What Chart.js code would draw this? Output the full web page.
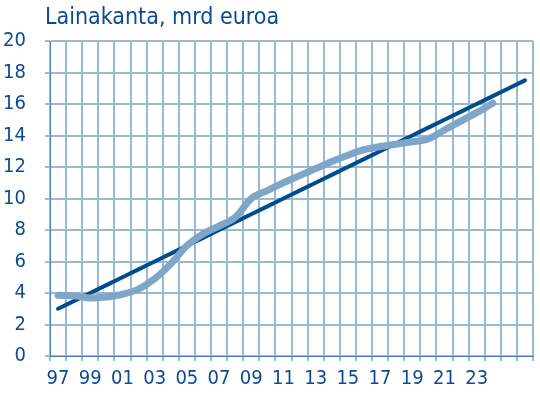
<!DOCTYPE html>
<html>
<head>
<meta charset="utf-8">
<script src="https://cdn.jsdelivr.net/npm/chart.js@4"></script>
<style>
  html, body { margin: 0; padding: 0; background: #fff; }
  #wrap { width: 540px; height: 395px; }
</style>
</head>
<body>
<div id="wrap"><canvas id="loan_chart" width="540" height="395"></canvas></div>
<script>
const years = ['97', '98', '99', '00', '01', '02', '03', '04', '05', '06',
               '07', '08', '09', '10', '11', '12', '13', '14', '15', '16',
               '17', '18', '19', '20', '21', '22', '23', '24', '25', '26'];
const shownTicks = ['97', '99', '01', '03', '05', '07', '09', '11', '13', '15', '17', '19', '21', '23'];

// Lainakanta (actual), mrd euroa
const loanStock = [3.85, 3.82, 3.68, 3.75, 3.92, 4.25, 4.9, 5.85, 7.0, 7.75,
                   8.25, 8.8, 10.0, 10.5, 11.0, 11.45, 11.9, 12.35, 12.75, 13.1,
                   13.3, 13.45, 13.6, 13.78, 14.35, 14.9, 15.45, 16.05, null, null];
// Trend line
const trend = [3.0, 3.5, 4.0, 4.5, 5.0, 5.5, 6.0, 6.5, 7.0, 7.5,
               8.0, 8.5, 9.0, 9.5, 10.0, 10.5, 11.0, 11.5, 12.0, 12.5,
               13.0, 13.5, 14.0, 14.5, 15.0, 15.5, 16.0, 16.5, 17.0, 17.5];

const fontFam = '"Liberation Sans Narrow", "DejaVu Sans Condensed", sans-serif';
const textColor = 'rgb(12, 74, 145)';
const gridColor = 'rgb(152, 186, 212)';
const axisColor = 'rgb(70, 130, 190)';

const titlePlugin = {
    id: 'cornerTitle',
    afterDraw(chart) {
        const ctx = chart.ctx;
        ctx.save();
        ctx.font = '23px ' + fontFam;
        ctx.fillStyle = textColor;
        ctx.textBaseline = 'alphabetic';
        ctx.textAlign = 'left';
        ctx.fillText('Lainakanta, mrd euroa', chart.chartArea.left - 5, 24);
        ctx.restore();
    }
};

const ctx = document.getElementById('loan_chart').getContext('2d');

new Chart(ctx, {
    type: 'line',
    data: {
        labels: years,
        datasets: [{
            label: 'Lainakanta',
            data: loanStock,
            borderColor: 'rgb(127, 166, 201)',
            borderWidth: 7,
            borderCapStyle: 'round',
            pointRadius: 0,
            cubicInterpolationMode: 'monotone',
            fill: false
        }, {
            label: 'Trendi',
            data: trend,
            borderColor: 'rgb(0, 76, 140)',
            borderWidth: 4,
            borderCapStyle: 'round',
            pointRadius: 0,
            fill: false
        }]
    },
    options: {
        responsive: false,
        animation: false,
        layout: {
            padding: { top: 41, right: 7, bottom: 0, left: 0 }
        },
        scales: {
            x: {
                offset: true,
                grid: {
                    offset: true,
                    color: gridColor,
                    lineWidth: 2,
                    tickLength: 5
                },
                border: { color: axisColor, width: 1 },
                ticks: {
                    autoSkip: false,
                    maxRotation: 0,
                    padding: 6,
                    color: textColor,
                    font: { family: fontFam, size: 20 },
                    callback: function (value, index) {
                        const lab = years[index];
                        return shownTicks.includes(lab) ? lab : '';
                    }
                },
                afterFit: function (scale) { scale.height = 39; }
            },
            y: {
                min: 0,
                max: 20,
                grid: {
                    color: gridColor,
                    lineWidth: 2,
                    tickLength: 5
                },
                border: { color: axisColor, width: 1 },
                ticks: {
                    stepSize: 2,
                    padding: 19,
                    color: textColor,
                    font: { family: fontFam, size: 20 }
                },
                afterFit: function (scale) { scale.width = 50; }
            }
        },
        plugins: {
            legend: { display: false },
            tooltip: { enabled: false }
        }
    },
    plugins: [titlePlugin]
});
</script>
</body>
</html>
